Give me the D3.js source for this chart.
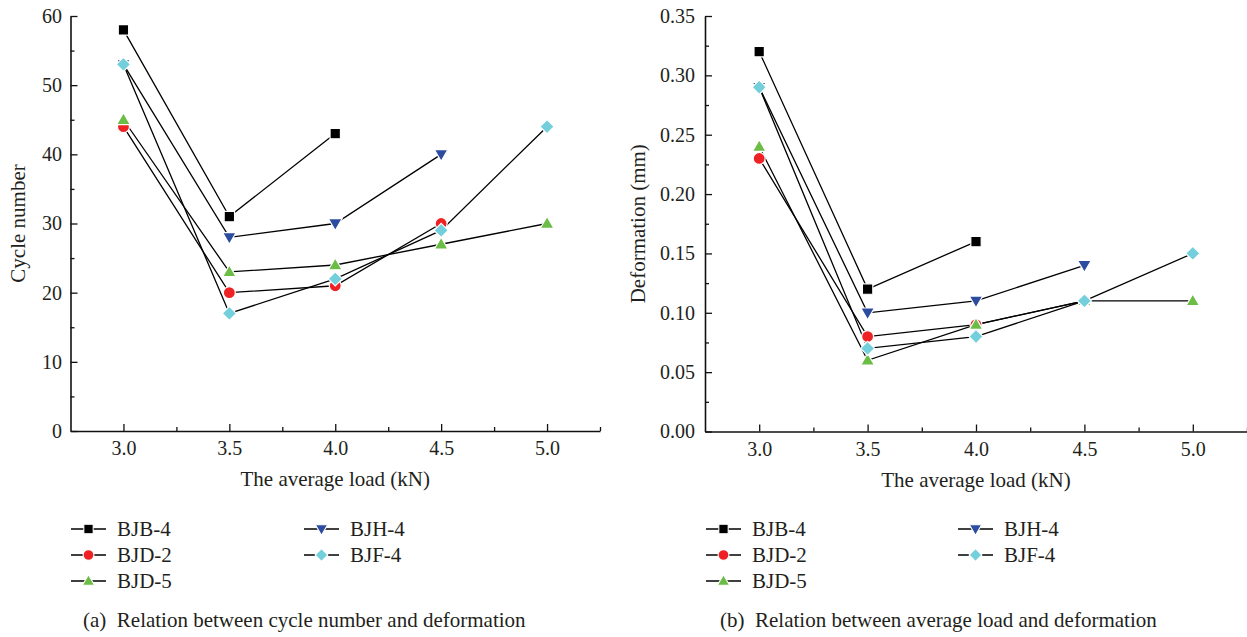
<!DOCTYPE html>
<html>
<head>
<meta charset="utf-8">
<script src="https://cdn.jsdelivr.net/npm/d3@7"></script>
<style>
  html, body { margin: 0; padding: 0; background: #fff; }
  svg { display: block; font-family: "Liberation Serif", "DejaVu Serif", serif; }
</style>
</head>
<body>
<svg id="chart" width="1247" height="637"></svg>
<script>
// Average load levels (kN)
const loads = [3.0, 3.5, 4.0, 4.5, 5.0];

// Specimen names, in legend order
const specimens = ["BJB-4", "BJD-2", "BJD-5", "BJH-4", "BJF-4"];

// (a) cycle number at each load level
const cyclesBJB4 = [58, 31, 43];
const cyclesBJD2 = [44, 20, 21, 30];
const cyclesBJD5 = [45, 23, 24, 27, 30];
const cyclesBJH4 = [53, 28, 30, 40];
const cyclesBJF4 = [53, 17, 22, 29, 44];

// (b) deformation (mm) at each load level
const deformBJB4 = [0.32, 0.12, 0.16];
const deformBJD2 = [0.23, 0.08, 0.09, 0.11];
const deformBJD5 = [0.24, 0.06, 0.09, 0.11, 0.11];
const deformBJH4 = [0.29, 0.10, 0.11, 0.14];
const deformBJF4 = [0.29, 0.07, 0.08, 0.11, 0.15];

// Tick labels
const xTickLabels = ["3.0", "3.5", "4.0", "4.5", "5.0"];
const cycleTicks = [0, 10, 20, 30, 40, 50, 60];
const deformTicks = [0.00, 0.05, 0.10, 0.15, 0.20, 0.25, 0.30, 0.35];

const styles = {
  "BJB-4": { color: "#000000", shape: "square" },
  "BJD-2": { color: "#ee2224", shape: "circle" },
  "BJD-5": { color: "#6cbd45", shape: "triangle" },
  "BJH-4": { color: "#2c4ca0", shape: "triangleDown" },
  "BJF-4": { color: "#72cfdb", shape: "diamond" }
};

// Marker outlines drawn around (0,0)
function markerPath(shape) {
  const p = d3.path();
  if (shape === "square") {
    const h = 5.2;
    p.rect(-h, -h, 2 * h, 2 * h);
  } else if (shape === "circle") {
    p.arc(0, 0, 6, 0, 2 * Math.PI);
  } else if (shape === "triangle") {
    p.moveTo(0, -7); p.lineTo(6.8, 4.8); p.lineTo(-6.8, 4.8); p.closePath();
  } else if (shape === "triangleDown") {
    p.moveTo(0, 7); p.lineTo(6.8, -4.8); p.lineTo(-6.8, -4.8); p.closePath();
  } else if (shape === "diamond") {
    p.moveTo(0, -7.1); p.lineTo(7.1, 0); p.lineTo(0, 7.1); p.lineTo(-7.1, 0); p.closePath();
  }
  return p.toString();
}

const svg = d3.select("#chart");
const TICK_FS = 20;
const LABEL_FS = 21;
const TEXT_COLOR = "#231f20";

function drawPanel(cfg) {
  const g = svg.append("g");
  const x = d3.scaleLinear().domain([2.75, 5.25]).range([cfg.left, cfg.right]);
  const y = d3.scaleLinear().domain(cfg.yDomain).range([cfg.bottom, cfg.top]);

  // x axis: major ticks at loads, minor halfway between; ticks point inward
  const xAxis = d3.axisBottom(x).tickValues(loads)
    .tickFormat((d, i) => xTickLabels[i]).tickSizeInner(-7).tickSizeOuter(0).tickPadding(10);
  const gx = g.append("g").attr("transform", `translate(0,${cfg.bottom})`).call(xAxis);
  const xMinor = d3.axisBottom(x).tickValues([3.25, 3.75, 4.25, 4.75, 5.25])
    .tickFormat("").tickSizeInner(-4).tickSizeOuter(0);
  g.append("g").attr("transform", `translate(0,${cfg.bottom})`).call(xMinor)
    .select(".domain").remove();

  const yAxis = d3.axisLeft(y).tickValues(cfg.yTicks).tickFormat(cfg.yFormat)
    .tickSizeInner(-7).tickSizeOuter(0).tickPadding(cfg.yPad);
  const gy = g.append("g").attr("transform", `translate(${cfg.left},0)`).call(yAxis);
  const yMinor = d3.axisLeft(y).tickValues(cfg.yMinor).tickFormat("")
    .tickSizeInner(-4).tickSizeOuter(0);
  g.append("g").attr("transform", `translate(${cfg.left},0)`).call(yMinor)
    .select(".domain").remove();

  g.selectAll(".domain").attr("stroke", "#111").attr("stroke-width", 1.6);
  g.selectAll(".tick line").attr("stroke", "#111").attr("stroke-width", 1.3);
  g.selectAll(".tick text").attr("font-family", "Liberation Serif, serif")
    .attr("font-size", TICK_FS).attr("fill", TEXT_COLOR);
  gx.selectAll(".tick text").attr("dy", "0.71em");

  // Axis titles
  g.append("text").attr("x", (cfg.left + cfg.right) / 2).attr("y", cfg.bottom + 55)
    .attr("text-anchor", "middle").attr("font-size", LABEL_FS).attr("fill", TEXT_COLOR)
    .text("The average load (kN)");
  g.append("text")
    .attr("transform", `translate(${cfg.yTitleX},${(cfg.top + cfg.bottom) / 2}) rotate(-90)`)
    .attr("text-anchor", "middle").attr("font-size", LABEL_FS).attr("fill", TEXT_COLOR)
    .text(cfg.yTitle);

  const line = d3.line().x((d, i) => x(loads[i])).y(d => y(d));

  specimens.forEach((name, k) => {
    g.append("path").datum(cfg.series[k]).attr("d", line)
      .attr("fill", "none").attr("stroke", "#000").attr("stroke-width", 1.3);
  });
  specimens.forEach((name, k) => {
    const st = styles[name];
    g.selectAll(null).data(cfg.series[k]).enter().append("path")
      .attr("d", markerPath(st.shape))
      .attr("transform", (d, i) => `translate(${x(loads[i])},${y(d)})`)
      .attr("fill", st.color).attr("stroke", "#fff").attr("stroke-width", 1.2);
  });

  // Legend: two columns
  specimens.forEach((name, k) => {
    const col = k < 3 ? 0 : 1;
    const row = k < 3 ? k : k - 3;
    const lx = cfg.legendX[col];
    const ly = 529 + row * 26;
    const st = styles[name];
    const lg = g.append("g");
    lg.append("line").attr("x1", lx).attr("x2", lx + 35).attr("y1", ly).attr("y2", ly)
      .attr("stroke", "#000").attr("stroke-width", 1.3);
    lg.append("path").attr("d", markerPath(st.shape))
      .attr("transform", `translate(${lx + 17.5},${ly}) scale(0.9)`)
      .attr("fill", st.color).attr("stroke", "#fff").attr("stroke-width", 1.2);
    lg.append("text").attr("x", lx + 46).attr("y", ly + 7)
      .attr("font-size", LABEL_FS).attr("fill", TEXT_COLOR).text(name);
  });

  // Caption
  g.append("text").attr("x", cfg.captionX).attr("y", 627)
    .attr("font-size", LABEL_FS).attr("fill", TEXT_COLOR)
    .text(cfg.caption);
}

drawPanel({
  left: 70.5, right: 600, top: 16, bottom: 431,
  yDomain: [0, 60], yTicks: cycleTicks, yMinor: [5, 15, 25, 35, 45, 55],
  yFormat: d3.format("d"), yPad: 8.5, yTitle: "Cycle number", yTitleX: 25,
  series: [cyclesBJB4, cyclesBJD2, cyclesBJD5, cyclesBJH4, cyclesBJF4],
  legendX: [71, 304], captionX: 83,
  caption: "(a)\u00a0\u00a0Relation between cycle number and deformation"
});

drawPanel({
  left: 705, right: 1247, top: 16, bottom: 431.5,
  yDomain: [0, 0.35], yTicks: deformTicks,
  yMinor: [0.025, 0.075, 0.125, 0.175, 0.225, 0.275, 0.325],
  yFormat: d3.format(".2f"), yPad: 10, yTitle: "Deformation (mm)", yTitleX: 645,
  series: [deformBJB4, deformBJD2, deformBJD5, deformBJH4, deformBJF4],
  legendX: [706, 958], captionX: 720,
  caption: "(b)\u00a0\u00a0Relation between average load and deformation"
});
</script>
</body>
</html>
